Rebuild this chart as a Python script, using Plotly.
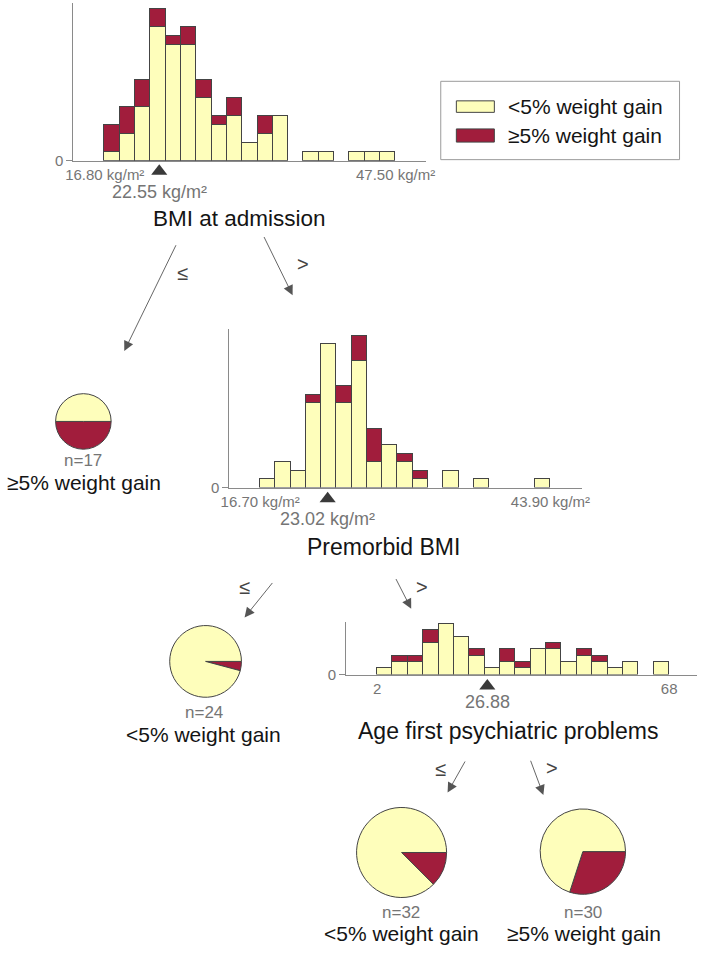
import numpy as np
import plotly.graph_objects as go

W, H = 709, 954

YELLOW = '#fefebb'
RED = '#a11d3c'
EDGE = '#444444'
GREY = '#757575'
FONT = 'Liberation Sans, Arial, sans-serif'

classes = ['<5% weight gain', '≥5% weight gain']

# node 1: BMI at admission
bmi_adm_range = [16.80, 47.50]
bmi_adm_split = 22.55
bmi_adm_low = [1, 3, 6, 15, 13, 13, 7, 4, 5, 2, 3, 5, 0, 1, 1, 0, 1, 1, 1]
bmi_adm_high = [3, 3, 3, 2, 1, 2, 2, 1, 2, 0, 2, 0, 0, 0, 0, 0, 0, 0, 0]

# node 2: Premorbid BMI
premorbid_range = [16.70, 43.90]
premorbid_split = 23.02
premorbid_low = [1, 3, 2, 10, 17, 10, 15, 3, 5, 3, 1, 0, 2, 0, 1, 0, 0, 0, 1]
premorbid_high = [0, 0, 0, 1, 0, 2, 3, 4, 0, 1, 1, 0, 0, 0, 0, 0, 0, 0, 0]

# node 3: Age first psychiatric problems
age_range = [2, 68]
age_split = 26.88
age_low = [1, 2, 2, 5, 8, 6, 3, 1, 2, 1, 4, 4, 2, 3, 2, 1, 2, 0, 2]
age_high = [0, 1, 1, 2, 0, 0, 1, 0, 2, 1, 0, 1, 0, 1, 1, 0, 0, 0, 0]

# leaves: [<5%, >=5%] (n=17 leaf is drawn as an even split)
leaf_n17 = [8.5, 8.5]
leaf_n24 = [23, 1]
leaf_n32 = [28, 4]
leaf_n30 = [21, 9]


def px(x):
    return x / W


def py(y):
    return 1 - y / H


fig = go.Figure()

axis_common = dict(showline=True, linecolor='#8a8a8a', linewidth=1,
                   showgrid=False, zeroline=False,
                   tickfont=dict(family=FONT, size=15, color=GREY))


def histogram(n, tri_n, rng, low, high, split, unit_fmt, xrange_, ytop,
              left, right, top, base, tri_y):
    xa, ya, ta = 'x%d' % n, 'y%d' % n, 'y%d' % tri_n
    edges = np.linspace(rng[0], rng[1], len(low) + 1)
    centers = (edges[:-1] + edges[1:]) / 2
    width = edges[1] - edges[0]
    for vals, color in [(low, YELLOW), (high, RED)]:
        fig.add_bar(x=centers, y=[v if v else None for v in vals], width=width,
                    marker=dict(color=color, line=dict(color=EDGE, width=1)),
                    xaxis=xa, yaxis=ya, showlegend=False, hoverinfo='skip')
    # split marker lives on a thin helper axis just under the baseline
    fig.add_scatter(x=[split], y=[tri_y], mode='markers',
                    marker=dict(symbol='triangle-up', size=14, color='#3a3a3a'),
                    xaxis=xa, yaxis=ta, showlegend=False, hoverinfo='skip')
    unit = (base - top) / ytop
    fig.layout['xaxis%d' % n] = dict(
        domain=[px(left), px(right)], anchor=ya, ticks='', range=xrange_,
        tickvals=rng, ticktext=[unit_fmt.format(v) for v in rng], **axis_common)
    fig.layout['yaxis%d' % n] = dict(
        domain=[py(base), py(top)], anchor=xa, range=[0, ytop], tickvals=[0],
        ticks='outside', ticklen=6, tickcolor='#8a8a8a', **axis_common)
    fig.layout['yaxis%d' % tri_n] = dict(
        domain=[py(base + 22), py(base)], anchor=xa, range=[-22 / unit, 0],
        visible=False, fixedrange=True)


histogram(1, 4, bmi_adm_range, bmi_adm_low, bmi_adm_high, bmi_adm_split,
          '{:.2f} kg/m²', [13.48, 50.72], 17.67, 66, 428, 3, 162, -1.2)
histogram(2, 5, premorbid_range, premorbid_low, premorbid_high, premorbid_split,
          '{:.2f} kg/m²', [13.80, 46.86], 18.8, 226, 588, 331.7, 491.7, -1.33)
histogram(3, 6, age_range, age_low, age_high, age_split,
          '{:d}', [-5.02, 74.3], 8.3, 346, 706, 627.3, 680.3, -1.8)

# leaf pies (minority class drawn clockwise from 3 o'clock)
for vals, cx, cy, r in [(leaf_n17, 76.3, 425, 28.5), (leaf_n24, 201.7, 667, 36.8),
                        (leaf_n32, 402.8, 859.7, 46.2), (leaf_n30, 588.8, 858.8, 43.8)]:
    fig.add_pie(values=vals[::-1], labels=classes[::-1], sort=False, direction='clockwise',
                rotation=90, textinfo='none', hoverinfo='skip', showlegend=False,
                marker=dict(colors=[RED, YELLOW], line=dict(color=EDGE, width=1)),
                domain=dict(x=[px(cx - r), px(cx + r)], y=[py(cy + r), py(cy - r)]))

ann = []


def text(x, y, s, size, color='#141414', xanchor='center', xref='paper'):
    ann.append(dict(x=x if xref != 'paper' else px(x), y=py(y), xref=xref, yref='paper',
                    text=s, showarrow=False, xanchor=xanchor, yanchor='middle',
                    font=dict(family=FONT, size=size, color=color)))


def arrow(x0, y0, x1, y1):
    # tail offset in pixels relative to the head
    ann.append(dict(x=px(x1), y=py(y1), ax=x0 - x1, ay=y0 - y1, xref='paper', yref='paper',
                    axref='pixel', ayref='pixel', text='', showarrow=True,
                    arrowhead=2, arrowsize=2.2, arrowwidth=0.9, arrowcolor='#555555',
                    standoff=0, startstandoff=0))


# split values and feature names
text(bmi_adm_split, 194, '{:.2f} kg/m²'.format(bmi_adm_split), 18, GREY, xref='x')
text(premorbid_split, 523, '{:.2f} kg/m²'.format(premorbid_split), 18, GREY, xref='x2')
text(age_split, 708.3, '{:.2f}'.format(age_split), 18, GREY, xref='x3')
text(236.7, 220.7, 'BMI at admission', 22.5)
text(384, 551.7, 'Premorbid BMI', 23)
text(511.7, 736.7, 'Age first psychiatric problems', 23)

# edges
arrow(170.7, 246.7, 118.3, 354)
arrow(261.7, 238, 291, 297.7)
arrow(270.7, 586.7, 241.7, 622.7)
arrow(396.7, 582.7, 412.7, 614)
arrow(468.3, 766.7, 450, 799.3)
arrow(535, 766, 548.3, 801.7)
for x, y, s in [(178.3, 275, '≤'), (301.7, 266.7, '>'), (241.7, 591.7, '≤'),
                (423.3, 591.7, '>'), (442.7, 775, '≤'), (556.7, 774, '>')]:
    text(x, y, s, 20, '#444444')

# leaf labels
text(76.3, 464.5, 'n=%d' % sum(leaf_n17), 17, GREY)
text(76.7, 487, classes[1], 21)
text(200, 718.8, 'n=%d' % sum(leaf_n24), 17, GREY)
text(200, 740.5, classes[0], 21)
text(402.7, 920, 'n=%d' % sum(leaf_n32), 17, GREY)
text(402.7, 941.5, classes[0], 21)
text(589.3, 920, 'n=%d' % sum(leaf_n30), 17, GREY)
text(590, 941.5, classes[1], 21)

# legend
shapes = [dict(type='rect', xref='paper', yref='paper', x0=px(443), x1=px(688),
               y0=py(161), y1=py(82), line=dict(color='#9a9a9a', width=1),
               fillcolor='white')]
for (y0, y1), color, label in [((101.7, 113.3), YELLOW, classes[0]),
                               ((130, 143.3), RED, classes[1])]:
    shapes.append(dict(type='rect', xref='paper', yref='paper', x0=px(459), x1=px(498),
                       y0=py(y1), y1=py(y0), fillcolor=color,
                       line=dict(color=EDGE, width=1)))
    text(510, (y0 + y1) / 2, label, 21, xanchor='left')

fig.update_layout(
    width=W, height=H, margin=dict(l=0, r=0, t=0, b=0),
    plot_bgcolor='white', paper_bgcolor='white',
    barmode='stack', bargap=0,
    annotations=ann, shapes=shapes,
    font=dict(family=FONT),
)

fig.write_html("out.html", config={'displayModeBar': False},
               post_script="document.body.style.margin='0';"
                           "document.body.style.overflow='hidden';")
